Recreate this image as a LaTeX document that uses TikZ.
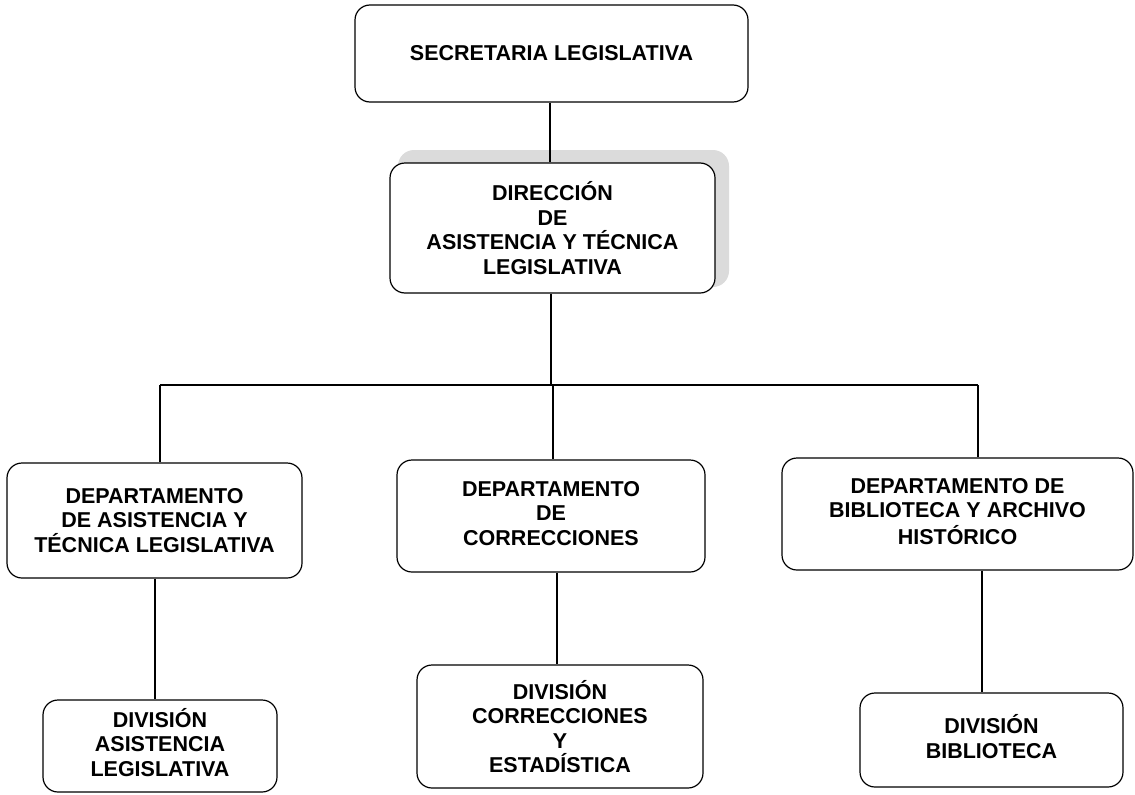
\documentclass[tikz,border=0pt]{standalone}
\usepackage{fontspec}
\setmainfont{Liberation Sans}
\begin{document}
\begin{tikzpicture}[x=1pt,y=-1pt,
  box/.style={draw=black, line width=1.2pt, rounded corners=15pt, fill=white,
    align=center, inner sep=0pt, font=\bfseries\fontsize{21.5}{24.5}\selectfont},
  conn/.style={draw=black, line width=1.3pt}]
\useasboundingbox (0,0) rectangle (1135,795);
% scan shadow behind direction box
\fill[gray!28, rounded corners=16pt] (398,150) rectangle (729,287);
% boxes
\node[box, minimum width=393pt, minimum height=97pt] (sec) at (551.5,53.5)
  {\raisebox{-10pt}{SECRETARIA LEGISLATIVA}};
\node[box, minimum width=325pt, minimum height=130pt] (dir) at (552.5,228)
  {DIRECCIÓN\\DE\\ASISTENCIA Y TÉCNICA\\LEGISLATIVA};
\node[box, minimum width=295pt, minimum height=115pt] (d1) at (154.5,520.5)
  {DEPARTAMENTO\\DE ASISTENCIA Y\\TÉCNICA LEGISLATIVA};
\node[box, minimum width=308pt, minimum height=112pt] (d2) at (551,516)
  {\raisebox{6pt}{\begin{tabular}{@{}c@{}}DEPARTAMENTO\\DE\\CORRECCIONES\end{tabular}}};
\node[box, minimum width=351pt, minimum height=112pt] (d3) at (957.5,514)
  {\raisebox{14pt}{\begin{tabular}{@{}c@{}}DEPARTAMENTO DE\\BIBLIOTECA Y ARCHIVO\\HISTÓRICO\end{tabular}}};
\node[box, minimum width=234pt, minimum height=92pt] (v1) at (160,746)
  {\raisebox{-6pt}{\begin{tabular}{@{}c@{}}DIVISIÓN\\ASISTENCIA\\LEGISLATIVA\end{tabular}}};
\node[box, minimum width=286pt, minimum height=123pt] (v2) at (560,726.5)
  {DIVISIÓN\\CORRECCIONES\\Y\\ESTADÍSTICA};
\node[box, minimum width=263pt, minimum height=94pt] (v3) at (991.5,740)
  {\raisebox{12pt}{\begin{tabular}{@{}c@{}}DIVISIÓN\\BIBLIOTECA\end{tabular}}};
% connectors
\coordinate (bus) at (551,385);
\coordinate (busl) at (160,385);
\coordinate (busr) at (978,385);
\draw[conn] (sec.south -| 550,0) -- (dir.north -| 550,0);
\draw[conn] (dir.south -| bus) -- (bus);
\draw[conn] (busl) -- (busr);
\draw[conn] (busl) -- (busl |- d1.north);
\draw[conn] (bus -| 553,0) -- (d2.north -| 553,0);
\draw[conn] (busr) -- (busr |- d3.north);
\draw[conn] (d1.south -| 155,0) -- (v1.north -| 155,0);
\draw[conn] (d2.south -| 557,0) -- (v2.north -| 557,0);
\draw[conn] (d3.south -| 982,0) -- (v3.north -| 982,0);
\end{tikzpicture}
\end{document}
